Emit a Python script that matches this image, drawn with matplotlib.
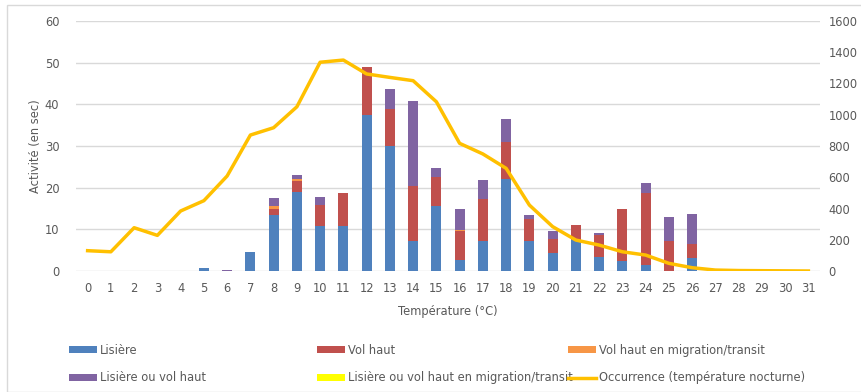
import numpy as np
import matplotlib
matplotlib.use("Agg")
import matplotlib.pyplot as plt

plt.rcParams['font.family'] = ['Liberation Sans Narrow', 'DejaVu Sans']

temps = list(range(32))
lisiere = [0, 0, 0, 0, 0, 0.8, 0, 4.5, 13.5, 19.0, 10.7, 10.7, 37.5, 30.0, 7.2, 15.5,
           2.7, 7.2, 22.2, 7.3, 4.3, 7.4, 3.4, 2.4, 1.4, 0, 3.2, 0, 0, 0, 0, 0]
vol_haut = [0, 0, 0, 0, 0, 0, 0, 0, 1.5, 2.5, 5.2, 8.1, 11.4, 9.0, 13.1, 7.0,
            7.0, 10.1, 8.8, 5.2, 3.5, 3.6, 5.2, 12.5, 17.3, 7.3, 3.3, 0, 0, 0, 0, 0]
vol_haut_migr = [0, 0, 0, 0, 0, 0, 0, 0, 0.5, 0.7, 0, 0, 0, 0, 0, 0,
                 0.2, 0, 0, 0, 0, 0, 0, 0, 0, 0, 0, 0, 0, 0, 0, 0]
lisiere_ou_vol = [0, 0, 0, 0, 0, 0, 0.3, 0, 2.0, 0.8, 1.8, 0, 0, 4.8, 20.4, 2.3,
                  5.0, 4.5, 5.5, 1.0, 1.8, 0, 0.5, 0, 2.4, 5.7, 7.2, 0, 0, 0, 0, 0]
lisiere_ou_vol_migr = [0] * 32
occurrence = [130, 123, 277, 228, 384, 450, 608, 870, 917, 1051, 1336, 1350, 1261, 1239,
              1218, 1083, 817, 749, 657, 422, 284, 198, 166, 123, 102, 49, 21, 6, 3, 2, 1, 0]

series = [
    ("Lisière", lisiere, "#4F81BD"),
    ("Vol haut", vol_haut, "#C0504D"),
    ("Vol haut en migration/transit", vol_haut_migr, "#F79646"),
    ("Lisière ou vol haut", lisiere_ou_vol, "#8064A2"),
    ("Lisière ou vol haut en migration/transit", lisiere_ou_vol_migr, "#FFFF00"),
]

txt = "#595959"
fs = 8.3
fig = plt.figure(figsize=(8.61, 3.92), dpi=100)
ax = fig.add_axes([76 / 861, 1 - 271 / 392, 744 / 861, 250 / 392])
ax2 = ax.twinx()

x = np.arange(len(temps))
bottom = np.zeros(len(temps))
handles = []
for name, vals, col in series:
    b = ax.bar(x, vals, 0.42, bottom=bottom, color=col, label=name, zorder=2)
    bottom += np.array(vals)
    handles.append(b)

ln, = ax2.plot(x, occurrence, color="#FFC000", lw=2.5, label="Occurrence (température nocturne)",
               solid_joinstyle="round")
handles.append(ln)

ax.set_xlim(-0.5, 31.5)
ax.set_ylim(0, 60)
ax2.set_ylim(0, 1600)
ax.set_yticks(range(0, 61, 10))
ax2.set_yticks(range(0, 1601, 200))
ax.set_xticks(x)
ax.set_xticklabels([str(t) for t in temps])
ax.yaxis.grid(True, color="#D9D9D9", lw=1, zorder=0)
ax.set_axisbelow(True)
for a in (ax, ax2):
    for s in a.spines.values():
        s.set_visible(False)
    a.tick_params(length=0, colors=txt, labelsize=fs)
ax.tick_params(axis="x", pad=8)
ax.tick_params(axis="y", pad=12)
ax2.tick_params(axis="y", pad=6)
ax.set_ylabel("Activité (en sec)", color=txt, fontsize=fs, labelpad=2)
ax.set_xlabel("Température (°C)", color=txt, fontsize=fs, labelpad=7)

# one legend per column, rows filled left to right like the original
cols = [(69, [0, 3]), (317, [1, 4]), (568, [2, 5])]
for xpix, idx in cols:
    leg = fig.legend([handles[i] for i in idx], [handles[i].get_label() for i in idx],
                     loc="upper left", bbox_to_anchor=(xpix / 861, 1 - 344 / 392),
                     frameon=False, fontsize=fs, handlelength=2.45, handleheight=0.55,
                     handletextpad=0.25, labelspacing=1.25, borderpad=0, borderaxespad=0)
    for t in leg.get_texts():
        t.set_color(txt)

fig.patches.append(plt.Rectangle((7 / 861, 0), 1, 1 - 5 / 392, transform=fig.transFigure,
                                 fill=False, edgecolor="#D9D9D9", lw=1))

fig.savefig("out.png", dpi=100)
